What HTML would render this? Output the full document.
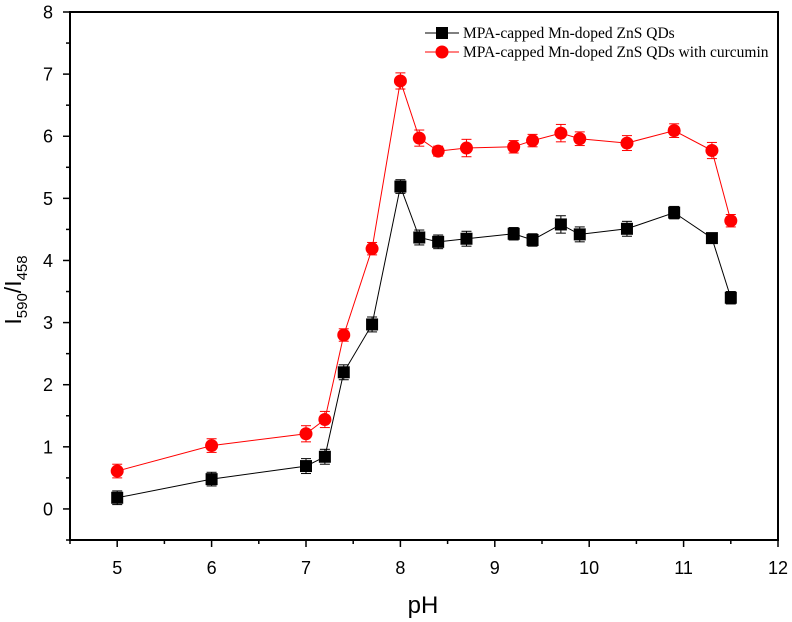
<!DOCTYPE html>
<html><head><meta charset="utf-8"><style>
html,body{margin:0;padding:0;background:#fff;}
svg{display:block;font-family:"Liberation Sans",sans-serif;}
</style></head><body>
<svg id="chart" width="792" height="622" xmlns="http://www.w3.org/2000/svg"></svg>
<script>
const phValues = [5,6,7,7.2,7.4,7.7,8,8.2,8.4,8.7,9.2,9.4,9.7,9.9,10.4,10.9,11.3,11.5];
const qdRatio = [0.18,0.48,0.69,0.84,2.2,2.97,5.19,4.37,4.30,4.35,4.43,4.33,4.58,4.42,4.51,4.77,4.36,3.4];
const curcuminRatio = [0.61,1.02,1.21,1.44,2.8,4.19,6.89,5.97,5.76,5.81,5.83,5.93,6.05,5.96,5.89,6.09,5.77,4.64];
const qdErr = [0.11,0.11,0.12,0.12,0.12,0.12,0.11,0.12,0.11,0.12,0.1,0.1,0.14,0.12,0.12,0.1,0.08,0.1];
const curErr = [0.11,0.11,0.13,0.13,0.1,0.1,0.13,0.13,0.08,0.14,0.1,0.1,0.14,0.11,0.12,0.11,0.13,0.1];
const xTicks = [5,6,7,8,9,10,11,12];
const yTicks = [0,1,2,3,4,5,6,7,8];

const NS="http://www.w3.org/2000/svg", svg=document.getElementById('chart');
const L=70,R=778,T=12,B=540, xmin=4.5,xmax=12,ymin=-0.5,ymax=8;
const sx=v=>L+(v-xmin)/(xmax-xmin)*(R-L);
const sy=v=>B-(v-ymin)/(ymax-ymin)*(B-T);
function el(tag,attrs,parent){const e=document.createElementNS(NS,tag);for(const k in attrs)e.setAttribute(k,attrs[k]);(parent||svg).appendChild(e);return e;}

const frame=el('rect',{x:L,y:T,width:R-L,height:B-T,fill:'none',stroke:'#000','stroke-width':2});



const xg=el('g',{});


for(let v=4.5;v<=12.001;v+=0.5){
  const major=Math.abs(v-Math.round(v))<1e-6;
  el('line',{x1:sx(v),x2:sx(v),y1:B,y2:B+(major?7:4),stroke:'#000','stroke-width':1.5},xg);
}
xTicks.forEach(v=>{
  const t=el('text',{x:sx(v),y:B+34,'text-anchor':'middle','font-size':18},xg);
  t.textContent=v;
  
  
});
const yg=el('g',{});


for(let v=-0.5;v<=8.001;v+=0.5){
  const major=Math.abs(v-Math.round(v))<1e-6;
  el('line',{x1:L,x2:L-(major?7:4),y1:sy(v),y2:sy(v),stroke:'#000','stroke-width':1.5},yg);
}
yTicks.forEach(v=>{
  const t=el('text',{x:L-17,y:sy(v)+6.5,'text-anchor':'end','font-size':18},yg);
  t.textContent=v;
  
  
});
const xt=el('text',{x:423,y:613,'text-anchor':'middle','font-size':24});
xt.textContent='pH';


const yt=el('text',{transform:'translate(21,290) rotate(-90)','text-anchor':'middle','font-size':23});
yt.innerHTML='I<tspan font-size="15" dy="6">590</tspan><tspan dy="-6">/I</tspan><tspan font-size="15" dy="6">458</tspan>';



function series(vals,errs,color,shape,name){
  const g=el('g',{});
  
  
  el('polyline',{points:phValues.map((x,i)=>sx(x)+','+sy(vals[i])).join(' '),fill:'none',stroke:color,'stroke-width':1},g);
  phValues.forEach((x,i)=>{
    const cx=sx(x),cy=sy(vals[i]),e=errs[i];
    el('line',{x1:cx,x2:cx,y1:sy(vals[i]+e),y2:sy(vals[i]-e),stroke:color,'stroke-width':1},g);
    el('line',{x1:cx-5,x2:cx+5,y1:sy(vals[i]+e),y2:sy(vals[i]+e),stroke:color,'stroke-width':1},g);
    el('line',{x1:cx-5,x2:cx+5,y1:sy(vals[i]-e),y2:sy(vals[i]-e),stroke:color,'stroke-width':1},g);
    let m;
    if(shape==='sq') m=el('rect',{x:cx-6,y:cy-6,width:12,height:12,fill:color},g);
    else m=el('circle',{cx:cx,cy:cy,r:6.5,fill:color},g);
    
    
  });
}
series(curcuminRatio,curErr,'#ff0000','ci','series-with-curcumin');
series(qdRatio,qdErr,'#000000','sq','series-qds');

const lg=el('g',{});


el('line',{x1:425,x2:459,y1:33,y2:33,stroke:'#000','stroke-width':1},lg);
el('rect',{x:436,y:27,width:12,height:12,fill:'#000'},lg);
el('line',{x1:425,x2:459,y1:52,y2:52,stroke:'#ff0000','stroke-width':1},lg);
el('circle',{cx:442,cy:52,r:6.5,fill:'#ff0000'},lg);
[['MPA-capped Mn-doped ZnS QDs',38],['MPA-capped Mn-doped ZnS QDs with curcumin',57]].forEach(([s,y])=>{
  const t=el('text',{x:463,y:y,'font-size':15.5,'font-family':'"Liberation Serif",serif'},lg);
  t.textContent=s;
  
  
});
</script>
</body></html>
